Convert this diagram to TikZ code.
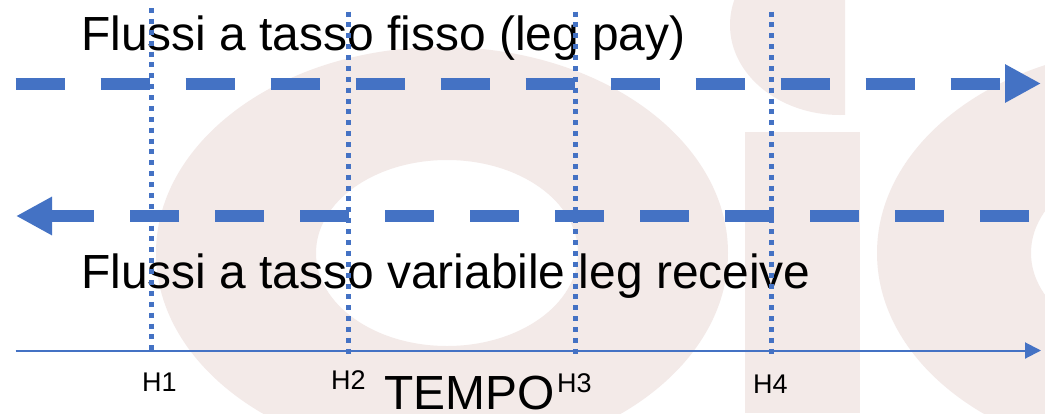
\documentclass[tikz,border=0pt]{standalone}
\usepackage{fontspec}
\setmainfont{Liberation Sans}
\usetikzlibrary{arrows.meta}
\definecolor{wm}{HTML}{F3EAE8}
\definecolor{bl}{HTML}{4472C4}
\tikzset{
  flow/.style={draw=bl,line width=12pt,dash pattern=on 49pt off 36pt,-{Triangle[length=36pt,width=36pt,fill=bl]}},
  axisline/.style={draw=bl,line width=2pt,-{Triangle[length=16pt,width=16pt,fill=bl]}},
  tick/.style={draw=bl,line width=5pt,dash pattern=on 5pt off 5.88pt},
  big/.style={anchor=base west,inner sep=0pt,font=\fontsize{47.9pt}{50pt}\selectfont,text=black},
  small/.style={anchor=base west,inner sep=0pt,font=\fontsize{27pt}{30pt}\selectfont,text=black}
}
\begin{document}
\begin{tikzpicture}[x=1pt,y=-1pt]
\useasboundingbox (0,0) rectangle (1045,413);
\fill[white] (0,0) rectangle (1045,413);
\begin{scope}
\clip (0,0) rectangle (1045,413);
\fill[wm,even odd rule] (442,253) ellipse [x radius=286,y radius=206] (447,253) ellipse [x radius=131,y radius=93];
\fill[wm,even odd rule] (1162,253) ellipse [x radius=285,y radius=206] (1162,253) ellipse [x radius=131,y radius=93];
\fill[wm] (745,132) rectangle (860,413);
\begin{scope}
\clip (700,0) rectangle (845,120);
\fill[wm] (840,25) ellipse [x radius=110,y radius=90];
\end{scope}
\end{scope}
\node[big] (fixed) at (81,50) {Flussi a tasso fisso (leg pay)};
\node[big] (float) at (81,288) {Flussi a tasso variabile leg receive};
\node[big] (tempo) at (384,409) {TEMPO};
\node[small] (h1) at (142,391) {H1};
\node[small] (h2) at (331,389) {H2};
\node[small] (h3) at (557,392) {H3};
\node[small] (h4) at (753,393) {H4};
\coordinate (payS) at (15.5,83.5);
\coordinate (payE) at (1041,83.5);
\coordinate (recS) at (1029,216);
\coordinate (recE) at (16,216);
\coordinate (axS) at (15.5,350.5);
\coordinate (axE) at (1041,350.5);
\coordinate (t1a) at (151.5,8);
\coordinate (t1b) at (151.5,350);
\coordinate (t2a) at (348.7,11.5);
\coordinate (t2b) at (348.7,354);
\coordinate (t3a) at (575,11.5);
\coordinate (t3b) at (575,354);
\coordinate (t4a) at (771,11.5);
\coordinate (t4b) at (771,354);
\draw[flow] (payS) -- (payE);
\draw[flow] (recS) -- (recE);
\draw[axisline] (axS) -- (axE);
\draw[tick] (t1a) -- (t1b);
\draw[tick] (t2a) -- (t2b);
\draw[tick] (t3a) -- (t3b);
\draw[tick] (t4a) -- (t4b);
\end{tikzpicture}
\end{document}
